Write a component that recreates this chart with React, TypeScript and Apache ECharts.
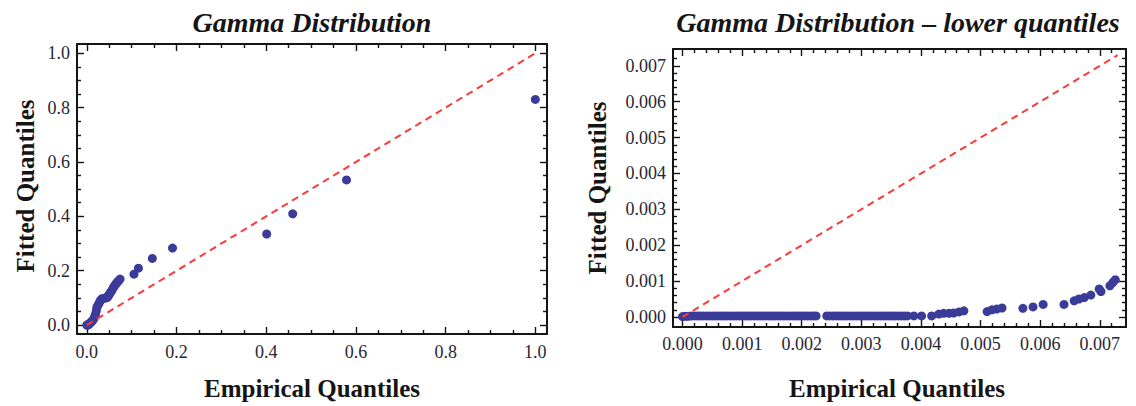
import React, { useEffect, useRef } from "react";
import * as echarts from "echarts";

// ---------- data ----------
const fullEmpiricalX = [
  0.000, 0.001, 0.002, 0.003, 0.004, 0.006, 0.008, 0.010, 0.012, 0.015,
  0.017, 0.019, 0.021, 0.022, 0.024, 0.026, 0.028, 0.030, 0.032, 0.034,
  0.037, 0.040, 0.043, 0.045, 0.047, 0.048, 0.050, 0.052, 0.054, 0.056,
  0.059, 0.061, 0.063, 0.065, 0.067, 0.069, 0.071, 0.074, 0.105, 0.115,
  0.146, 0.191, 0.401, 0.459, 0.579, 1.000
];
const fullFittedY = [
  0.000, 0.000, 0.001, 0.001, 0.002, 0.005, 0.008, 0.012, 0.015, 0.021,
  0.030, 0.039, 0.052, 0.064, 0.070, 0.076, 0.083, 0.090, 0.094, 0.097,
  0.098, 0.099, 0.100, 0.101, 0.104, 0.108, 0.113, 0.118, 0.123, 0.128,
  0.138, 0.142, 0.147, 0.152, 0.156, 0.160, 0.163, 0.169, 0.187, 0.209,
  0.245, 0.283, 0.335, 0.409, 0.534, 0.830
];

const lowerEmpiricalX = [
  0.00000, 0.00005, 0.00010, 0.00015, 0.00020, 0.00025, 0.00030, 0.00035, 0.00040, 0.00045,
  0.00050, 0.00055, 0.00060, 0.00065, 0.00070, 0.00075, 0.00080, 0.00085, 0.00090, 0.00095,
  0.00100, 0.00105, 0.00110, 0.00115, 0.00120, 0.00125, 0.00130, 0.00135, 0.00140, 0.00145,
  0.00150, 0.00155, 0.00160, 0.00165, 0.00170, 0.00175, 0.00180, 0.00185, 0.00190, 0.00195,
  0.00200, 0.00205, 0.00210, 0.00215, 0.00220, 0.00224, 0.00242, 0.00247, 0.00252, 0.00257,
  0.00262, 0.00267, 0.00272, 0.00277, 0.00282, 0.00287, 0.00292, 0.00297, 0.00302, 0.00307,
  0.00312, 0.00317, 0.00322, 0.00327, 0.00332, 0.00337, 0.00342, 0.00347, 0.00352, 0.00357,
  0.00362, 0.00367, 0.00372, 0.00377, 0.00388, 0.00401,
  0.00418, 0.00430, 0.00438, 0.00447, 0.00455, 0.00464, 0.00472, 0.00511, 0.00519, 0.00527,
  0.00536, 0.00571, 0.00588, 0.00605, 0.00640, 0.00657, 0.00665, 0.00674, 0.00685, 0.00699,
  0.00702, 0.00717, 0.00722, 0.00726
];
const lowerFittedY = [
  0.00001, 0.00002, 0.00002, 0.00003, 0.00003, 0.00003, 0.00003, 0.00003, 0.00003, 0.00003,
  0.00003, 0.00003, 0.00003, 0.00003, 0.00003, 0.00003, 0.00003, 0.00003, 0.00003, 0.00003,
  0.00003, 0.00003, 0.00003, 0.00003, 0.00003, 0.00003, 0.00003, 0.00003, 0.00003, 0.00003,
  0.00003, 0.00003, 0.00003, 0.00003, 0.00003, 0.00003, 0.00003, 0.00003, 0.00003, 0.00003,
  0.00003, 0.00003, 0.00003, 0.00003, 0.00003, 0.00003, 0.00003, 0.00003, 0.00003, 0.00003,
  0.00003, 0.00003, 0.00003, 0.00003, 0.00003, 0.00003, 0.00003, 0.00003, 0.00003, 0.00003,
  0.00003, 0.00003, 0.00003, 0.00003, 0.00003, 0.00003, 0.00003, 0.00003, 0.00003, 0.00003,
  0.00003, 0.00003, 0.00003, 0.00003, 0.00003, 0.00003,
  0.00003, 0.00008, 0.00010, 0.00010, 0.00011, 0.00014, 0.00017, 0.00015, 0.00020, 0.00022,
  0.00025, 0.00024, 0.00028, 0.00035, 0.00035, 0.00045, 0.00050, 0.00054, 0.00061, 0.00078,
  0.00071, 0.00087, 0.00096, 0.00104
];

const fullRefLine = [[0, 0], [1, 1]];
const lowerRefLine = [[0, 0], [0.0073, 0.0073]];

const fullMajorTicks = [0, 0.2, 0.4, 0.6, 0.8, 1.0];
const fullMinorTicks = [0.05, 0.1, 0.15, 0.25, 0.3, 0.35, 0.45, 0.5, 0.55, 0.65, 0.7, 0.75, 0.85, 0.9, 0.95];
const lowerMajorTicks = [0, 0.001, 0.002, 0.003, 0.004, 0.005, 0.006, 0.007];
const lowerMinorTicks = [
  0.0002, 0.0004, 0.0006, 0.0008, 0.0012, 0.0014, 0.0016, 0.0018, 0.0022, 0.0024, 0.0026, 0.0028,
  0.0032, 0.0034, 0.0036, 0.0038, 0.0042, 0.0044, 0.0046, 0.0048, 0.0052, 0.0054, 0.0056, 0.0058,
  0.0062, 0.0064, 0.0066, 0.0068, 0.0072
];

const titleLeft = "Gamma Distribution";
const titleRight = "Gamma Distribution \u2013 lower quantiles";
const xName = "Empirical Quantiles";
const yName = "Fitted Quantiles";

// ---------- helpers ----------
const SERIF = "Liberation Serif";
const FRAME = "#141414";

function frameAxes(
  gridIndex: number,
  dim: "x" | "y",
  min: number,
  max: number,
  majors: number[],
  minors: number[],
  digits: number,
  labelMargin: number
) {
  const posA = dim === "x" ? "bottom" : "left";
  const posB = dim === "x" ? "top" : "right";
  const make = (position: string, ticks: number[], len: number, showLine: boolean, showLabel: boolean) => ({
    type: "value",
    gridIndex,
    position,
    min,
    max,
    axisLine: { show: showLine, onZero: false, lineStyle: { color: FRAME, width: 2 } },
    axisTick: { show: true, inside: true, length: len, customValues: ticks, lineStyle: { color: FRAME, width: 1.4 } },
    axisLabel: {
      show: showLabel,
      customValues: majors,
      formatter: (v: number) => v.toFixed(digits),
      margin: labelMargin,
      fontFamily: SERIF,
      fontSize: 18,
      color: "#262636",
      ...(dim === "x" ? { verticalAlign: "middle" } : { align: "right" }),
    },
    splitLine: { show: false },
    minorTick: { show: false },
  });
  return [
    make(posA, majors, 7, true, true),
    make(posA, minors, 4, false, false),
    make(posB, majors, 7, true, false),
    make(posB, minors, 4, false, false),
  ];
}

const POINT = "#3b3b9a";
const RED = "#ff3838";

export default function App() {
  const ref = useRef<HTMLDivElement>(null);
  useEffect(() => {
    if (!ref.current) return;
    const chart = echarts.init(ref.current, undefined, { renderer: "svg" });

    const xAxes = [
      ...frameAxes(0, "x", -0.022, 1.026, fullMajorTicks, fullMinorTicks, 1, 18),
      ...frameAxes(1, "x", -0.00016, 0.00744, lowerMajorTicks, lowerMinorTicks, 3, 17),
    ];
    const yAxes = [
      ...frameAxes(0, "y", -0.033, 1.034, fullMajorTicks, fullMinorTicks, 1, 7),
      ...frameAxes(1, "y", -0.00028, 0.00747, lowerMajorTicks, lowerMinorTicks, 3, 7),
    ];

    const textStyle = (size: number, italic: boolean) => ({
      fill: "#151515",
      fontFamily: SERIF,
      fontSize: size,
      fontWeight: "bold",
      fontStyle: italic ? "italic" : "normal",
      align: "center",
      verticalAlign: "middle",
    });

    chart.setOption({
      animation: false,
      backgroundColor: "#ffffff",
      grid: [
        { left: 77, top: 44, width: 470, height: 290, containLabel: false, outerBoundsMode: "none" },
        { left: 673, top: 49, width: 453, height: 278, containLabel: false, outerBoundsMode: "none" },
      ],
      xAxis: xAxes,
      yAxis: yAxes,
      series: [
        {
          type: "scatter",
          xAxisIndex: 0,
          yAxisIndex: 0,
          data: fullEmpiricalX.map((x, i) => [x, fullFittedY[i]]),
          symbolSize: 9,
          itemStyle: { color: POINT, opacity: 1 },
          z: 2,
        },
        {
          type: "line",
          xAxisIndex: 0,
          yAxisIndex: 0,
          data: fullRefLine,
          symbol: "none",
          lineStyle: { color: RED, width: 2, type: [7, 5] },
          z: 3,
        },
        {
          type: "scatter",
          xAxisIndex: 4,
          yAxisIndex: 4,
          data: lowerEmpiricalX.map((x, i) => [x, lowerFittedY[i]]),
          symbolSize: 9,
          itemStyle: { color: POINT, opacity: 1 },
          z: 2,
        },
        {
          type: "line",
          xAxisIndex: 4,
          yAxisIndex: 4,
          data: lowerRefLine,
          symbol: "none",
          lineStyle: { color: RED, width: 2, type: [7, 5] },
          z: 3,
        },
      ],
      graphic: [
        { type: "text", x: 312, y: 22, style: { text: titleLeft, ...textStyle(28, true) } },
        { type: "text", x: 898, y: 22, style: { text: titleRight, ...textStyle(28, true) } },
        { type: "text", x: 312, y: 388, style: { text: xName, ...textStyle(25, false) } },
        { type: "text", x: 897, y: 388, style: { text: xName, ...textStyle(25, false) } },
        { type: "text", x: 25, y: 186, rotation: Math.PI / 2, style: { text: yName, ...textStyle(25, false) } },
        { type: "text", x: 597, y: 188, rotation: Math.PI / 2, style: { text: yName, ...textStyle(25, false) } },
      ],
    });
    return () => chart.dispose();
  }, []);
  return (
    <div
      ref={ref}
      style={{ position: "absolute", left: 0, top: 0, width: 1136, height: 406, background: "#fff" }}
    />
  );
}
